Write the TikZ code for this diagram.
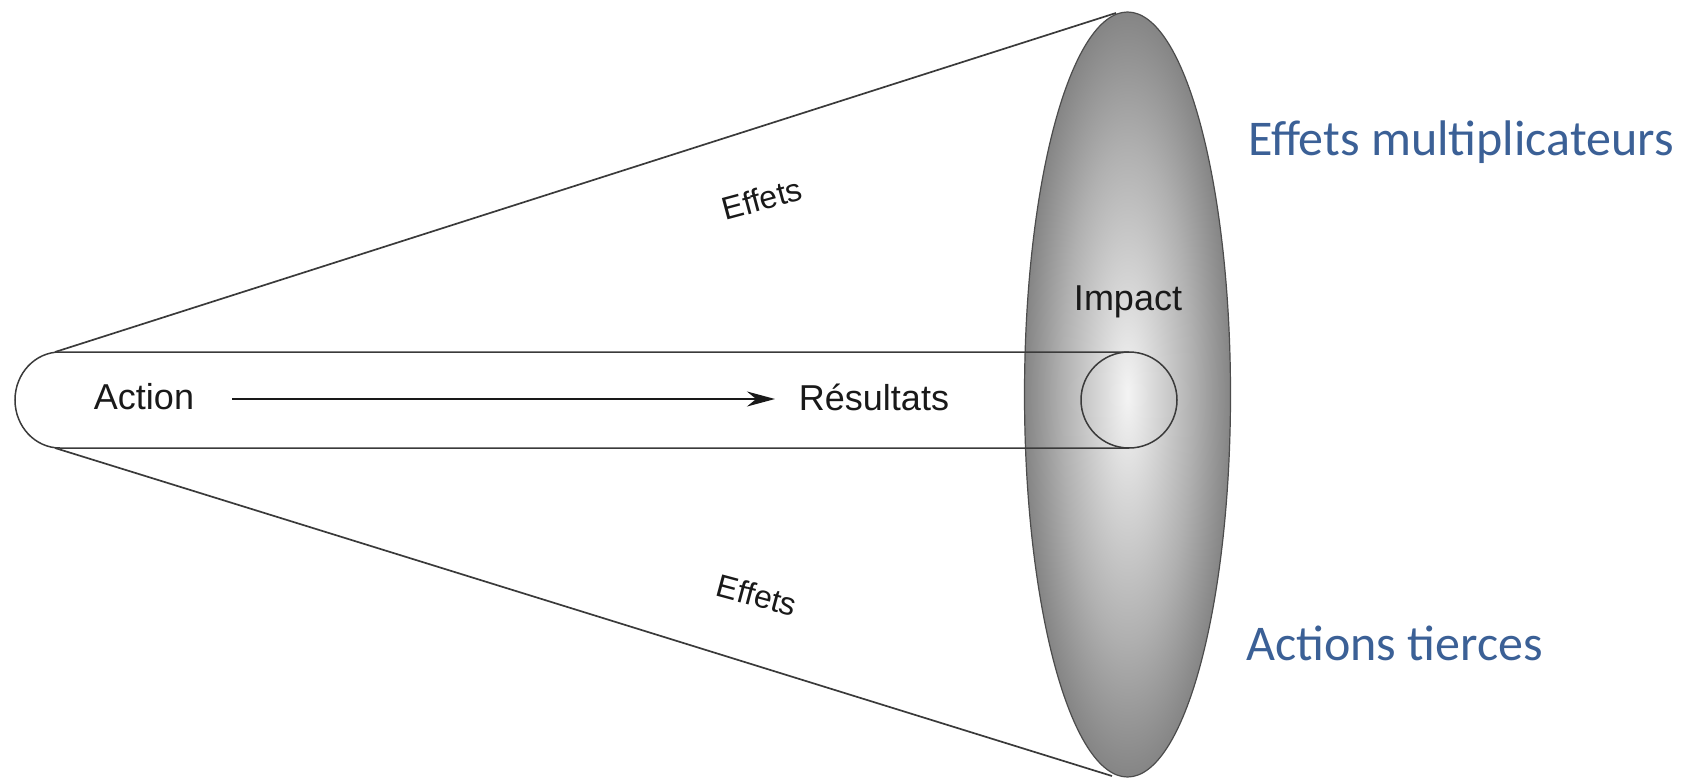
\documentclass[tikz,border=0pt]{standalone}
\usepackage{fontspec}
\setmainfont{Liberation Sans}
\newfontfamily\blufont{Carlito}
\usetikzlibrary{arrows.meta}
\definecolor{lineg}{HTML}{3A3A3A}
\definecolor{txtblue}{RGB}{59,96,150}
\definecolor{sh0}{HTML}{F4F4F4}
\definecolor{sh1}{HTML}{DADADA}
\definecolor{sh2}{HTML}{B0B0B0}
\definecolor{sh3}{HTML}{858585}
\pgfdeclareradialshading{impactshade}{\pgfpoint{0bp}{0bp}}{color(0bp)=(sh0); color(6bp)=(sh1); color(16bp)=(sh2); color(25bp)=(sh3); color(50bp)=(sh3)}
\tikzset{
  thinline/.style={draw=lineg, line width=1.7pt},
  lbl/.style={font=\fontsize{36}{40}\selectfont, text=black!90, inner sep=0pt},
  efflbl/.style={font=\fontsize{32}{36}\selectfont, text=black!90, inner sep=0pt},
  bluelbl/.style={font=\blufont\fontsize{50}{56}\selectfont, text=txtblue, inner sep=0pt, anchor=base west},
}
\begin{document}
\begin{tikzpicture}[x=1pt, y=-1pt]
\useasboundingbox (0,0) rectangle (1690,779);
% impact ellipse
\coordinate (ec) at (1127.5,394.5);
\shade[shading=impactshade, draw=black!70, line width=1.2pt] (ec) ellipse [x radius=103pt, y radius=382.5pt];
% cone
\coordinate (tipT) at (55,352);
\coordinate (tipB) at (55,448);
\coordinate (ellT) at (1116,13);
\coordinate (ellB) at (1112,776);
\draw[thinline] (tipT) -- (ellT);
\draw[thinline] (tipB) -- (ellB);
% tube
\coordinate (tubeTR) at (1129,352);
\coordinate (tubeBR) at (1129,448);
\coordinate (tubeTL) at (60,352);
\draw[thinline, line width=1.5pt] (tubeTR) -- (tubeTL) arc [start angle=90, end angle=270, x radius=45pt, y radius=48pt] -- (tubeBR);
\node[circle, draw=lineg, line width=1.5pt, minimum size=96pt, inner sep=0pt] (res) at (1129,400) {};
% labels
\node[lbl] (action) at (144,397) {Action};
\node[lbl] (resultats) at (874,397) {Résultats};
\node[lbl] (impact) at (1128,302) {Impact};
\node[efflbl, rotate=15] (eff1) at (762,199) {Effets};
\node[efflbl, rotate=-15] (eff2) at (757,595) {Effets};
\coordinate (arrS) at (232,399);
\coordinate (arrE) at (775,399);
\draw[line width=1.6pt, black!90, -{Stealth[length=28pt, width=15pt]}] (arrS) -- (arrE);
\node[bluelbl] (mult) at (1248,155) {Effets multiplicateurs};
\node[bluelbl] (tierces) at (1246,660) {Actions tierces};
\end{tikzpicture}
\end{document}
